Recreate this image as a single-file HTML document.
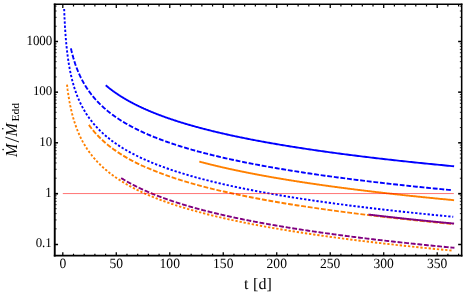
<!DOCTYPE html>
<html><head><meta charset="utf-8"><title>plot</title>
<style>html,body{margin:0;padding:0;background:#fff;}body{width:464px;height:293px;overflow:hidden;font-family:"Liberation Serif",serif;}</style>
</head><body>
<svg width="464" height="293" viewBox="0 0 464 293" style="display:block;will-change:transform">
<rect width="464" height="293" fill="#fff"/>
<clipPath id="c"><rect x="54.75" y="4.15" width="407.1" height="251.5"/></clipPath>
<g clip-path="url(#c)" fill="none" stroke-linecap="butt" stroke-linejoin="round">
<path d="M105.75,85.29 L105.99,85.49 L106.23,85.69 L106.47,85.89 L106.71,86.10 L106.95,86.30 L107.20,86.50 L107.44,86.70 L107.69,86.91 L107.94,87.11 L108.19,87.31 L108.44,87.51 L108.69,87.72 L108.95,87.92 L109.20,88.12 L109.46,88.32 L109.72,88.53 L109.98,88.73 L110.24,88.93 L110.50,89.13 L110.77,89.34 L111.03,89.54 L111.30,89.74 L111.57,89.94 L111.84,90.15 L112.11,90.35 L112.38,90.55 L112.66,90.75 L112.93,90.96 L113.21,91.16 L113.49,91.36 L113.77,91.56 L114.05,91.77 L114.34,91.97 L114.62,92.17 L114.91,92.37 L115.20,92.58 L115.49,92.78 L115.78,92.98 L116.07,93.18 L116.37,93.39 L116.66,93.59 L116.96,93.79 L117.26,93.99 L117.56,94.20 L117.87,94.40 L118.17,94.60 L118.48,94.80 L118.79,95.01 L119.10,95.21 L119.41,95.41 L119.72,95.61 L120.04,95.82 L120.36,96.02 L120.67,96.22 L121.00,96.42 L121.32,96.63 L121.64,96.83 L121.97,97.03 L122.30,97.23 L122.62,97.44 L122.96,97.64 L123.29,97.84 L123.62,98.04 L123.96,98.25 L124.30,98.45 L124.64,98.65 L124.98,98.85 L125.33,99.06 L125.67,99.26 L126.02,99.46 L126.37,99.67 L126.72,99.87 L127.08,100.07 L127.43,100.27 L127.79,100.48 L128.15,100.68 L128.51,100.88 L128.88,101.08 L129.24,101.29 L129.61,101.49 L129.98,101.69 L130.35,101.89 L130.73,102.10 L131.11,102.30 L131.48,102.50 L131.86,102.70 L132.25,102.91 L132.63,103.11 L133.02,103.31 L133.41,103.51 L133.80,103.72 L134.19,103.92 L134.59,104.12 L134.98,104.32 L135.38,104.53 L135.79,104.73 L136.19,104.93 L136.60,105.13 L137.01,105.34 L137.42,105.54 L137.83,105.74 L138.25,105.94 L138.66,106.15 L139.08,106.35 L139.51,106.55 L139.93,106.75 L140.36,106.96 L140.79,107.16 L141.22,107.36 L141.65,107.56 L142.09,107.77 L142.53,107.97 L142.97,108.17 L143.42,108.37 L143.86,108.58 L144.31,108.78 L144.76,108.98 L145.22,109.18 L145.67,109.39 L146.13,109.59 L146.59,109.79 L147.06,109.99 L147.53,110.20 L147.99,110.40 L148.47,110.60 L148.94,110.80 L149.42,111.01 L149.90,111.21 L150.38,111.41 L150.87,111.61 L151.35,111.82 L151.84,112.02 L152.34,112.22 L152.83,112.42 L153.33,112.63 L153.83,112.83 L154.34,113.03 L154.84,113.23 L155.35,113.44 L155.87,113.64 L156.38,113.84 L156.90,114.04 L157.42,114.25 L157.95,114.45 L158.47,114.65 L159.00,114.85 L159.54,115.06 L160.07,115.26 L160.61,115.46 L161.15,115.66 L161.70,115.87 L162.24,116.07 L162.80,116.27 L163.35,116.47 L163.91,116.68 L164.47,116.88 L165.03,117.08 L165.60,117.28 L166.16,117.49 L166.74,117.69 L167.31,117.89 L167.89,118.09 L168.47,118.30 L169.06,118.50 L169.65,118.70 L170.24,118.90 L170.83,119.11 L171.43,119.31 L172.03,119.51 L172.64,119.71 L173.25,119.92 L173.86,120.12 L174.48,120.32 L175.09,120.52 L175.72,120.73 L176.34,120.93 L176.97,121.13 L177.60,121.33 L178.24,121.54 L178.88,121.74 L179.52,121.94 L180.17,122.14 L180.82,122.35 L181.47,122.55 L182.13,122.75 L182.79,122.95 L183.45,123.16 L184.12,123.36 L184.79,123.56 L185.47,123.76 L186.15,123.97 L186.83,124.17 L187.52,124.37 L188.21,124.57 L188.90,124.78 L189.60,124.98 L190.31,125.18 L191.01,125.38 L191.72,125.59 L192.44,125.79 L193.15,125.99 L193.88,126.19 L194.60,126.40 L195.33,126.60 L196.07,126.80 L196.80,127.00 L197.55,127.21 L198.29,127.41 L199.04,127.61 L199.80,127.81 L200.56,128.02 L201.32,128.22 L202.09,128.42 L202.86,128.62 L203.63,128.83 L204.41,129.03 L205.20,129.23 L205.99,129.43 L206.78,129.64 L207.58,129.84 L208.38,130.04 L209.19,130.24 L210.00,130.45 L210.81,130.65 L211.63,130.85 L212.46,131.05 L213.29,131.26 L214.12,131.46 L214.96,131.66 L215.80,131.86 L216.65,132.07 L217.50,132.27 L218.36,132.47 L219.22,132.67 L220.09,132.88 L220.96,133.08 L221.83,133.28 L222.71,133.48 L223.60,133.69 L224.49,133.89 L225.39,134.09 L226.29,134.29 L227.19,134.50 L228.10,134.70 L229.02,134.90 L229.94,135.10 L230.86,135.31 L231.79,135.51 L232.73,135.71 L233.67,135.91 L234.62,136.12 L235.57,136.32 L236.53,136.52 L237.49,136.72 L238.46,136.93 L239.43,137.13 L240.41,137.33 L241.39,137.53 L242.38,137.74 L243.38,137.94 L244.38,138.14 L245.38,138.34 L246.39,138.55 L247.41,138.75 L248.43,138.95 L249.46,139.15 L250.49,139.36 L251.53,139.56 L252.58,139.76 L253.63,139.96 L254.69,140.17 L255.75,140.37 L256.82,140.57 L257.89,140.77 L258.98,140.98 L260.06,141.18 L261.15,141.38 L262.25,141.58 L263.36,141.79 L264.47,141.99 L265.59,142.19 L266.71,142.39 L267.84,142.60 L268.97,142.80 L270.12,143.00 L271.26,143.20 L272.42,143.41 L273.58,143.61 L274.75,143.81 L275.92,144.01 L277.10,144.22 L278.29,144.42 L279.48,144.62 L280.68,144.82 L281.89,145.03 L283.10,145.23 L284.32,145.43 L285.55,145.63 L286.78,145.84 L288.02,146.04 L289.27,146.24 L290.53,146.44 L291.79,146.65 L293.06,146.85 L294.33,147.05 L295.61,147.25 L296.90,147.46 L298.20,147.66 L299.50,147.86 L300.82,148.06 L302.13,148.27 L303.46,148.47 L304.79,148.67 L306.13,148.87 L307.48,149.08 L308.84,149.28 L310.20,149.48 L311.57,149.68 L312.95,149.89 L314.33,150.09 L315.73,150.29 L317.13,150.49 L318.54,150.70 L319.95,150.90 L321.38,151.10 L322.81,151.30 L324.25,151.51 L325.70,151.71 L327.15,151.91 L328.62,152.11 L330.09,152.32 L331.57,152.52 L333.06,152.72 L334.56,152.92 L336.06,153.13 L337.57,153.33 L339.10,153.53 L340.63,153.73 L342.17,153.94 L343.71,154.14 L345.27,154.34 L346.83,154.54 L348.41,154.75 L349.99,154.95 L351.58,155.15 L353.18,155.35 L354.79,155.56 L356.40,155.76 L358.03,155.96 L359.67,156.16 L361.31,156.37 L362.96,156.57 L364.63,156.77 L366.30,156.97 L367.98,157.18 L369.67,157.38 L371.37,157.58 L373.08,157.78 L374.80,157.99 L376.53,158.19 L378.26,158.39 L380.01,158.59 L381.77,158.80 L383.53,159.00 L385.31,159.20 L387.10,159.40 L388.89,159.61 L390.70,159.81 L392.52,160.01 L394.34,160.21 L396.18,160.42 L398.03,160.62 L399.88,160.82 L401.75,161.02 L403.63,161.23 L405.51,161.43 L407.41,161.63 L409.32,161.83 L411.24,162.04 L413.17,162.24 L415.11,162.44 L417.06,162.64 L419.03,162.85 L421.00,163.05 L422.98,163.25 L424.98,163.45 L426.98,163.66 L429.00,163.86 L431.03,164.06 L433.07,164.26 L435.12,164.47 L437.18,164.67 L439.26,164.87 L441.34,165.07 L443.44,165.28 L445.55,165.48 L447.67,165.68 L449.80,165.88 L451.94,166.09 L454.10,166.29" stroke="#0000ff" stroke-width="1.9"/>
<path d="M70.93,48.35 L71.01,48.71 L71.09,49.06 L71.17,49.42 L71.25,49.77 L71.33,50.13 L71.42,50.48 L71.50,50.84 L71.58,51.19 L71.67,51.55 L71.76,51.90 L71.84,52.26 L71.93,52.61 L72.02,52.97 L72.11,53.32 L72.20,53.67 L72.29,54.03 L72.38,54.38 L72.48,54.74 L72.57,55.09 L72.67,55.45 L72.76,55.80 L72.86,56.16 L72.96,56.51 L73.05,56.87 L73.15,57.22 L73.25,57.58 L73.36,57.93 L73.46,58.29 L73.56,58.64 L73.67,58.99 L73.77,59.35 L73.88,59.70 L73.99,60.06 L74.10,60.41 L74.21,60.77 L74.32,61.12 L74.43,61.48 L74.54,61.83 L74.66,62.19 L74.77,62.54 L74.89,62.90 L75.01,63.25 L75.12,63.61 L75.24,63.96 L75.36,64.32 L75.49,64.67 L75.61,65.02 L75.73,65.38 L75.86,65.73 L75.99,66.09 L76.12,66.44 L76.24,66.80 L76.38,67.15 L76.51,67.51 L76.64,67.86 L76.78,68.22 L76.91,68.57 L77.05,68.93 L77.19,69.28 L77.33,69.64 L77.47,69.99 L77.61,70.34 L77.75,70.70 L77.90,71.05 L78.05,71.41 L78.20,71.76 L78.34,72.12 L78.50,72.47 L78.65,72.83 L78.80,73.18 L78.96,73.54 L79.12,73.89 L79.27,74.25 L79.43,74.60 L79.60,74.96 L79.76,75.31 L79.92,75.67 L80.09,76.02 L80.26,76.37 L80.43,76.73 L80.60,77.08 L80.77,77.44 L80.95,77.79 L81.12,78.15 L81.30,78.50 L81.48,78.86 L81.66,79.21 L81.85,79.57 L82.03,79.92 L82.22,80.28 L82.41,80.63 L82.60,80.99 L82.79,81.34 L82.98,81.69 L83.18,82.05 L83.38,82.40 L83.58,82.76 L83.78,83.11 L83.99,83.47 L84.19,83.82 L84.40,84.18 L84.61,84.53 L84.82,84.89 L85.04,85.24 L85.25,85.60 L85.47,85.95 L85.69,86.31 L85.91,86.66 L86.14,87.02 L86.36,87.37 L86.59,87.72 L86.82,88.08 L87.06,88.43 L87.29,88.79 L87.53,89.14 L87.77,89.50 L88.02,89.85 L88.26,90.21 L88.51,90.56 L88.76,90.92 L89.01,91.27 L89.27,91.63 L89.52,91.98 L89.78,92.34 L90.04,92.69 L90.31,93.04 L90.58,93.40 L90.85,93.75 L91.12,94.11 L91.39,94.46 L91.67,94.82 L91.95,95.17 L92.24,95.53 L92.52,95.88 L92.81,96.24 L93.10,96.59 L93.40,96.95 L93.70,97.30 L94.00,97.66 L94.30,98.01 L94.61,98.37 L94.91,98.72 L95.23,99.07 L95.54,99.43 L95.86,99.78 L96.18,100.14 L96.51,100.49 L96.83,100.85 L97.16,101.20 L97.50,101.56 L97.84,101.91 L98.18,102.27 L98.52,102.62 L98.87,102.98 L99.22,103.33 L99.57,103.69 L99.93,104.04 L100.29,104.39 L100.66,104.75 L101.02,105.10 L101.40,105.46 L101.77,105.81 L102.15,106.17 L102.53,106.52 L102.92,106.88 L103.31,107.23 L103.70,107.59 L104.10,107.94 L104.50,108.30 L104.91,108.65 L105.32,109.01 L105.73,109.36 L106.15,109.72 L106.57,110.07 L106.99,110.42 L107.42,110.78 L107.86,111.13 L108.29,111.49 L108.74,111.84 L109.18,112.20 L109.63,112.55 L110.09,112.91 L110.55,113.26 L111.01,113.62 L111.48,113.97 L111.96,114.33 L112.43,114.68 L112.92,115.04 L113.40,115.39 L113.90,115.74 L114.39,116.10 L114.89,116.45 L115.40,116.81 L115.91,117.16 L116.43,117.52 L116.95,117.87 L117.48,118.23 L118.01,118.58 L118.54,118.94 L119.09,119.29 L119.63,119.65 L120.19,120.00 L120.74,120.36 L121.31,120.71 L121.88,121.07 L122.45,121.42 L123.03,121.77 L123.62,122.13 L124.21,122.48 L124.80,122.84 L125.41,123.19 L126.01,123.55 L126.63,123.90 L127.25,124.26 L127.88,124.61 L128.51,124.97 L129.15,125.32 L129.79,125.68 L130.44,126.03 L131.10,126.39 L131.77,126.74 L132.44,127.09 L133.11,127.45 L133.80,127.80 L134.49,128.16 L135.18,128.51 L135.89,128.87 L136.60,129.22 L137.32,129.58 L138.04,129.93 L138.77,130.29 L139.51,130.64 L140.26,131.00 L141.01,131.35 L141.77,131.71 L142.54,132.06 L143.31,132.42 L144.09,132.77 L144.88,133.12 L145.68,133.48 L146.49,133.83 L147.30,134.19 L148.12,134.54 L148.95,134.90 L149.79,135.25 L150.64,135.61 L151.49,135.96 L152.35,136.32 L153.22,136.67 L154.10,137.03 L154.99,137.38 L155.89,137.74 L156.79,138.09 L157.70,138.44 L158.63,138.80 L159.56,139.15 L160.50,139.51 L161.45,139.86 L162.41,140.22 L163.38,140.57 L164.35,140.93 L165.34,141.28 L166.34,141.64 L167.34,141.99 L168.36,142.35 L169.39,142.70 L170.42,143.06 L171.47,143.41 L172.53,143.77 L173.59,144.12 L174.67,144.47 L175.76,144.83 L176.86,145.18 L177.96,145.54 L179.08,145.89 L180.21,146.25 L181.36,146.60 L182.51,146.96 L183.67,147.31 L184.85,147.67 L186.03,148.02 L187.23,148.38 L188.44,148.73 L189.66,149.09 L190.90,149.44 L192.14,149.79 L193.40,150.15 L194.67,150.50 L195.95,150.86 L197.24,151.21 L198.55,151.57 L199.87,151.92 L201.20,152.28 L202.55,152.63 L203.91,152.99 L205.28,153.34 L206.66,153.70 L208.06,154.05 L209.48,154.41 L210.90,154.76 L212.34,155.11 L213.80,155.47 L215.26,155.82 L216.75,156.18 L218.24,156.53 L219.75,156.89 L221.28,157.24 L222.82,157.60 L224.38,157.95 L225.95,158.31 L227.53,158.66 L229.13,159.02 L230.75,159.37 L232.38,159.73 L234.03,160.08 L235.70,160.44 L237.38,160.79 L239.07,161.14 L240.79,161.50 L242.52,161.85 L244.27,162.21 L246.03,162.56 L247.81,162.92 L249.61,163.27 L251.43,163.63 L253.26,163.98 L255.11,164.34 L256.98,164.69 L258.87,165.05 L260.77,165.40 L262.70,165.76 L264.64,166.11 L266.60,166.46 L268.59,166.82 L270.59,167.17 L272.61,167.53 L274.65,167.88 L276.71,168.24 L278.78,168.59 L280.88,168.95 L283.00,169.30 L285.15,169.66 L287.31,170.01 L289.49,170.37 L291.69,170.72 L293.92,171.08 L296.16,171.43 L298.43,171.79 L300.72,172.14 L303.04,172.49 L305.37,172.85 L307.73,173.20 L310.11,173.56 L312.52,173.91 L314.94,174.27 L317.40,174.62 L319.87,174.98 L322.37,175.33 L324.89,175.69 L327.44,176.04 L330.01,176.40 L332.61,176.75 L335.23,177.11 L337.88,177.46 L340.56,177.81 L343.26,178.17 L345.98,178.52 L348.74,178.88 L351.52,179.23 L354.32,179.59 L357.16,179.94 L360.02,180.30 L362.91,180.65 L365.83,181.01 L368.77,181.36 L371.75,181.72 L374.75,182.07 L377.78,182.43 L380.84,182.78 L383.94,183.14 L387.06,183.49 L390.21,183.84 L393.39,184.20 L396.61,184.55 L399.85,184.91 L403.13,185.26 L406.44,185.62 L409.78,185.97 L413.15,186.33 L416.56,186.68 L420.00,187.04 L423.47,187.39 L426.97,187.75 L430.52,188.10 L434.09,188.46 L437.70,188.81 L441.34,189.16 L445.02,189.52 L448.74,189.87 L452.49,190.23" stroke="#0000ff" stroke-width="1.9" stroke-dasharray="4.85 1.79"/>
<path d="M64.15,8.97 L64.17,9.49 L64.19,10.01 L64.21,10.53 L64.23,11.05 L64.25,11.57 L64.27,12.09 L64.29,12.61 L64.31,13.13 L64.33,13.64 L64.35,14.16 L64.38,14.68 L64.40,15.20 L64.42,15.72 L64.44,16.24 L64.47,16.76 L64.49,17.28 L64.52,17.80 L64.54,18.32 L64.56,18.84 L64.59,19.36 L64.62,19.88 L64.64,20.40 L64.67,20.92 L64.69,21.44 L64.72,21.96 L64.75,22.48 L64.78,23.00 L64.80,23.52 L64.83,24.04 L64.86,24.56 L64.89,25.08 L64.92,25.59 L64.95,26.11 L64.98,26.63 L65.01,27.15 L65.04,27.67 L65.08,28.19 L65.11,28.71 L65.14,29.23 L65.18,29.75 L65.21,30.27 L65.24,30.79 L65.28,31.31 L65.31,31.83 L65.35,32.35 L65.39,32.87 L65.42,33.39 L65.46,33.91 L65.50,34.43 L65.54,34.95 L65.58,35.47 L65.62,35.99 L65.66,36.51 L65.70,37.03 L65.74,37.54 L65.78,38.06 L65.82,38.58 L65.87,39.10 L65.91,39.62 L65.95,40.14 L66.00,40.66 L66.05,41.18 L66.09,41.70 L66.14,42.22 L66.19,42.74 L66.23,43.26 L66.28,43.78 L66.33,44.30 L66.38,44.82 L66.43,45.34 L66.49,45.86 L66.54,46.38 L66.59,46.90 L66.65,47.42 L66.70,47.94 L66.76,48.46 L66.81,48.98 L66.87,49.49 L66.93,50.01 L66.99,50.53 L67.05,51.05 L67.11,51.57 L67.17,52.09 L67.23,52.61 L67.30,53.13 L67.36,53.65 L67.42,54.17 L67.49,54.69 L67.56,55.21 L67.63,55.73 L67.69,56.25 L67.76,56.77 L67.84,57.29 L67.91,57.81 L67.98,58.33 L68.05,58.85 L68.13,59.37 L68.21,59.89 L68.28,60.41 L68.36,60.93 L68.44,61.44 L68.52,61.96 L68.60,62.48 L68.68,63.00 L68.77,63.52 L68.85,64.04 L68.94,64.56 L69.03,65.08 L69.12,65.60 L69.21,66.12 L69.30,66.64 L69.39,67.16 L69.49,67.68 L69.58,68.20 L69.68,68.72 L69.78,69.24 L69.88,69.76 L69.98,70.28 L70.08,70.80 L70.18,71.32 L70.29,71.84 L70.39,72.36 L70.50,72.88 L70.61,73.39 L70.72,73.91 L70.84,74.43 L70.95,74.95 L71.07,75.47 L71.19,75.99 L71.31,76.51 L71.43,77.03 L71.55,77.55 L71.68,78.07 L71.80,78.59 L71.93,79.11 L72.06,79.63 L72.19,80.15 L72.33,80.67 L72.46,81.19 L72.60,81.71 L72.74,82.23 L72.88,82.75 L73.03,83.27 L73.17,83.79 L73.32,84.31 L73.47,84.83 L73.62,85.35 L73.78,85.86 L73.94,86.38 L74.09,86.90 L74.26,87.42 L74.42,87.94 L74.58,88.46 L74.75,88.98 L74.92,89.50 L75.10,90.02 L75.27,90.54 L75.45,91.06 L75.63,91.58 L75.81,92.10 L76.00,92.62 L76.19,93.14 L76.38,93.66 L76.57,94.18 L76.77,94.70 L76.97,95.22 L77.17,95.74 L77.38,96.26 L77.58,96.78 L77.80,97.30 L78.01,97.81 L78.23,98.33 L78.45,98.85 L78.67,99.37 L78.90,99.89 L79.13,100.41 L79.36,100.93 L79.60,101.45 L79.84,101.97 L80.08,102.49 L80.32,103.01 L80.57,103.53 L80.83,104.05 L81.09,104.57 L81.35,105.09 L81.61,105.61 L81.88,106.13 L82.15,106.65 L82.43,107.17 L82.71,107.69 L82.99,108.21 L83.28,108.73 L83.57,109.25 L83.87,109.76 L84.17,110.28 L84.48,110.80 L84.79,111.32 L85.10,111.84 L85.42,112.36 L85.74,112.88 L86.07,113.40 L86.40,113.92 L86.74,114.44 L87.08,114.96 L87.42,115.48 L87.78,116.00 L88.13,116.52 L88.49,117.04 L88.86,117.56 L89.23,118.08 L89.61,118.60 L89.99,119.12 L90.38,119.64 L90.77,120.16 L91.17,120.68 L91.58,121.20 L91.99,121.71 L92.41,122.23 L92.83,122.75 L93.26,123.27 L93.69,123.79 L94.13,124.31 L94.58,124.83 L95.03,125.35 L95.49,125.87 L95.96,126.39 L96.43,126.91 L96.91,127.43 L97.40,127.95 L97.89,128.47 L98.40,128.99 L98.90,129.51 L99.42,130.03 L99.94,130.55 L100.47,131.07 L101.01,131.59 L101.55,132.11 L102.11,132.63 L102.67,133.15 L103.24,133.66 L103.81,134.18 L104.40,134.70 L104.99,135.22 L105.60,135.74 L106.21,136.26 L106.83,136.78 L107.45,137.30 L108.09,137.82 L108.74,138.34 L109.39,138.86 L110.06,139.38 L110.73,139.90 L111.42,140.42 L112.11,140.94 L112.82,141.46 L113.53,141.98 L114.25,142.50 L114.99,143.02 L115.73,143.54 L116.49,144.06 L117.25,144.58 L118.03,145.10 L118.82,145.61 L119.62,146.13 L120.43,146.65 L121.25,147.17 L122.09,147.69 L122.93,148.21 L123.79,148.73 L124.66,149.25 L125.55,149.77 L126.44,150.29 L127.35,150.81 L128.27,151.33 L129.21,151.85 L130.15,152.37 L131.11,152.89 L132.09,153.41 L133.08,153.93 L134.08,154.45 L135.10,154.97 L136.13,155.49 L137.18,156.01 L138.24,156.53 L139.32,157.05 L140.41,157.57 L141.52,158.08 L142.64,158.60 L143.78,159.12 L144.93,159.64 L146.11,160.16 L147.30,160.68 L148.50,161.20 L149.73,161.72 L150.97,162.24 L152.22,162.76 L153.50,163.28 L154.80,163.80 L156.11,164.32 L157.44,164.84 L158.79,165.36 L160.16,165.88 L161.55,166.40 L162.96,166.92 L164.39,167.44 L165.84,167.96 L167.31,168.48 L168.80,169.00 L170.31,169.52 L171.85,170.03 L173.41,170.55 L174.98,171.07 L176.59,171.59 L178.21,172.11 L179.86,172.63 L181.53,173.15 L183.22,173.67 L184.94,174.19 L186.68,174.71 L188.45,175.23 L190.25,175.75 L192.06,176.27 L193.91,176.79 L195.78,177.31 L197.68,177.83 L199.60,178.35 L201.56,178.87 L203.54,179.39 L205.55,179.91 L207.58,180.43 L209.65,180.95 L211.75,181.47 L213.87,181.98 L216.03,182.50 L218.21,183.02 L220.43,183.54 L222.68,184.06 L224.96,184.58 L227.28,185.10 L229.63,185.62 L232.01,186.14 L234.42,186.66 L236.87,187.18 L239.36,187.70 L241.88,188.22 L244.43,188.74 L247.03,189.26 L249.66,189.78 L252.32,190.30 L255.03,190.82 L257.77,191.34 L260.55,191.86 L263.38,192.38 L266.24,192.90 L269.14,193.42 L272.09,193.93 L275.07,194.45 L278.10,194.97 L281.18,195.49 L284.29,196.01 L287.46,196.53 L290.66,197.05 L293.91,197.57 L297.21,198.09 L300.56,198.61 L303.95,199.13 L307.39,199.65 L310.89,200.17 L314.43,200.69 L318.02,201.21 L321.66,201.73 L325.36,202.25 L329.10,202.77 L332.90,203.29 L336.76,203.81 L340.67,204.33 L344.63,204.85 L348.66,205.37 L352.74,205.88 L356.88,206.40 L361.07,206.92 L365.33,207.44 L369.65,207.96 L374.03,208.48 L378.47,209.00 L382.98,209.52 L387.54,210.04 L392.18,210.56 L396.88,211.08 L401.65,211.60 L406.49,212.12 L411.39,212.64 L416.37,213.16 L421.41,213.68 L426.53,214.20 L431.72,214.72 L436.99,215.24 L442.33,215.76 L447.75,216.28 L453.24,216.80" stroke="#0000ff" stroke-width="1.9" stroke-dasharray="2.3 1.847"/>
<path d="M199.29,161.57 L199.65,161.67 L200.01,161.76 L200.38,161.86 L200.74,161.96 L201.10,162.05 L201.47,162.15 L201.83,162.25 L202.20,162.34 L202.57,162.44 L202.94,162.54 L203.30,162.63 L203.68,162.73 L204.05,162.83 L204.42,162.92 L204.79,163.02 L205.17,163.12 L205.54,163.21 L205.92,163.31 L206.30,163.41 L206.67,163.50 L207.05,163.60 L207.43,163.70 L207.81,163.79 L208.20,163.89 L208.58,163.99 L208.96,164.08 L209.35,164.18 L209.74,164.27 L210.12,164.37 L210.51,164.47 L210.90,164.56 L211.29,164.66 L211.68,164.76 L212.08,164.85 L212.47,164.95 L212.86,165.05 L213.26,165.14 L213.66,165.24 L214.05,165.34 L214.45,165.43 L214.85,165.53 L215.25,165.63 L215.66,165.72 L216.06,165.82 L216.46,165.92 L216.87,166.01 L217.27,166.11 L217.68,166.21 L218.09,166.30 L218.50,166.40 L218.91,166.49 L219.32,166.59 L219.73,166.69 L220.15,166.78 L220.56,166.88 L220.98,166.98 L221.40,167.07 L221.81,167.17 L222.23,167.27 L222.65,167.36 L223.07,167.46 L223.50,167.56 L223.92,167.65 L224.35,167.75 L224.77,167.85 L225.20,167.94 L225.63,168.04 L226.06,168.14 L226.49,168.23 L226.92,168.33 L227.35,168.43 L227.78,168.52 L228.22,168.62 L228.66,168.71 L229.09,168.81 L229.53,168.91 L229.97,169.00 L230.41,169.10 L230.85,169.20 L231.30,169.29 L231.74,169.39 L232.19,169.49 L232.63,169.58 L233.08,169.68 L233.53,169.78 L233.98,169.87 L234.43,169.97 L234.88,170.07 L235.34,170.16 L235.79,170.26 L236.25,170.36 L236.71,170.45 L237.16,170.55 L237.62,170.65 L238.08,170.74 L238.55,170.84 L239.01,170.94 L239.47,171.03 L239.94,171.13 L240.41,171.22 L240.88,171.32 L241.35,171.42 L241.82,171.51 L242.29,171.61 L242.76,171.71 L243.24,171.80 L243.71,171.90 L244.19,172.00 L244.67,172.09 L245.15,172.19 L245.63,172.29 L246.11,172.38 L246.59,172.48 L247.08,172.58 L247.56,172.67 L248.05,172.77 L248.54,172.87 L249.03,172.96 L249.52,173.06 L250.01,173.16 L250.50,173.25 L251.00,173.35 L251.50,173.44 L251.99,173.54 L252.49,173.64 L252.99,173.73 L253.49,173.83 L254.00,173.93 L254.50,174.02 L255.01,174.12 L255.51,174.22 L256.02,174.31 L256.53,174.41 L257.04,174.51 L257.55,174.60 L258.07,174.70 L258.58,174.80 L259.10,174.89 L259.61,174.99 L260.13,175.09 L260.65,175.18 L261.18,175.28 L261.70,175.38 L262.22,175.47 L262.75,175.57 L263.28,175.67 L263.80,175.76 L264.33,175.86 L264.87,175.95 L265.40,176.05 L265.93,176.15 L266.47,176.24 L267.00,176.34 L267.54,176.44 L268.08,176.53 L268.62,176.63 L269.17,176.73 L269.71,176.82 L270.26,176.92 L270.80,177.02 L271.35,177.11 L271.90,177.21 L272.45,177.31 L273.01,177.40 L273.56,177.50 L274.12,177.60 L274.67,177.69 L275.23,177.79 L275.79,177.89 L276.35,177.98 L276.92,178.08 L277.48,178.17 L278.05,178.27 L278.61,178.37 L279.18,178.46 L279.75,178.56 L280.32,178.66 L280.90,178.75 L281.47,178.85 L282.05,178.95 L282.63,179.04 L283.21,179.14 L283.79,179.24 L284.37,179.33 L284.96,179.43 L285.54,179.53 L286.13,179.62 L286.72,179.72 L287.31,179.82 L287.90,179.91 L288.49,180.01 L289.09,180.11 L289.68,180.20 L290.28,180.30 L290.88,180.39 L291.48,180.49 L292.09,180.59 L292.69,180.68 L293.30,180.78 L293.90,180.88 L294.51,180.97 L295.13,181.07 L295.74,181.17 L296.35,181.26 L296.97,181.36 L297.58,181.46 L298.20,181.55 L298.82,181.65 L299.45,181.75 L300.07,181.84 L300.70,181.94 L301.32,182.04 L301.95,182.13 L302.58,182.23 L303.21,182.33 L303.85,182.42 L304.48,182.52 L305.12,182.62 L305.76,182.71 L306.40,182.81 L307.04,182.90 L307.69,183.00 L308.33,183.10 L308.98,183.19 L309.63,183.29 L310.28,183.39 L310.93,183.48 L311.59,183.58 L312.24,183.68 L312.90,183.77 L313.56,183.87 L314.22,183.97 L314.88,184.06 L315.55,184.16 L316.21,184.26 L316.88,184.35 L317.55,184.45 L318.22,184.55 L318.90,184.64 L319.57,184.74 L320.25,184.84 L320.93,184.93 L321.61,185.03 L322.29,185.12 L322.98,185.22 L323.66,185.32 L324.35,185.41 L325.04,185.51 L325.73,185.61 L326.42,185.70 L327.12,185.80 L327.81,185.90 L328.51,185.99 L329.21,186.09 L329.92,186.19 L330.62,186.28 L331.33,186.38 L332.03,186.48 L332.74,186.57 L333.46,186.67 L334.17,186.77 L334.89,186.86 L335.60,186.96 L336.32,187.06 L337.04,187.15 L337.77,187.25 L338.49,187.35 L339.22,187.44 L339.95,187.54 L340.68,187.63 L341.41,187.73 L342.14,187.83 L342.88,187.92 L343.62,188.02 L344.36,188.12 L345.10,188.21 L345.85,188.31 L346.59,188.41 L347.34,188.50 L348.09,188.60 L348.84,188.70 L349.60,188.79 L350.35,188.89 L351.11,188.99 L351.87,189.08 L352.63,189.18 L353.40,189.28 L354.16,189.37 L354.93,189.47 L355.70,189.57 L356.47,189.66 L357.25,189.76 L358.02,189.85 L358.80,189.95 L359.58,190.05 L360.37,190.14 L361.15,190.24 L361.94,190.34 L362.73,190.43 L363.52,190.53 L364.31,190.63 L365.10,190.72 L365.90,190.82 L366.70,190.92 L367.50,191.01 L368.31,191.11 L369.11,191.21 L369.92,191.30 L370.73,191.40 L371.54,191.50 L372.35,191.59 L373.17,191.69 L373.99,191.79 L374.81,191.88 L375.63,191.98 L376.46,192.07 L377.28,192.17 L378.11,192.27 L378.94,192.36 L379.78,192.46 L380.61,192.56 L381.45,192.65 L382.29,192.75 L383.13,192.85 L383.98,192.94 L384.82,193.04 L385.67,193.14 L386.52,193.23 L387.38,193.33 L388.23,193.43 L389.09,193.52 L389.95,193.62 L390.81,193.72 L391.68,193.81 L392.55,193.91 L393.42,194.01 L394.29,194.10 L395.16,194.20 L396.04,194.30 L396.92,194.39 L397.80,194.49 L398.68,194.58 L399.57,194.68 L400.45,194.78 L401.34,194.87 L402.24,194.97 L403.13,195.07 L404.03,195.16 L404.93,195.26 L405.83,195.36 L406.73,195.45 L407.64,195.55 L408.55,195.65 L409.46,195.74 L410.38,195.84 L411.29,195.94 L412.21,196.03 L413.13,196.13 L414.06,196.23 L414.98,196.32 L415.91,196.42 L416.84,196.52 L417.77,196.61 L418.71,196.71 L419.65,196.80 L420.59,196.90 L421.53,197.00 L422.48,197.09 L423.43,197.19 L424.38,197.29 L425.33,197.38 L426.29,197.48 L427.24,197.58 L428.21,197.67 L429.17,197.77 L430.13,197.87 L431.10,197.96 L432.07,198.06 L433.05,198.16 L434.02,198.25 L435.00,198.35 L435.98,198.45 L436.97,198.54 L437.95,198.64 L438.94,198.74 L439.94,198.83 L440.93,198.93 L441.93,199.03 L442.93,199.12 L443.93,199.22 L444.93,199.31 L445.94,199.41 L446.95,199.51 L447.96,199.60 L448.98,199.70 L450.00,199.80 L451.02,199.89 L452.04,199.99 L453.07,200.09 L454.10,200.18" stroke="#ff8000" stroke-width="1.9"/>
<path d="M88.90,124.85 L89.08,125.10 L89.26,125.35 L89.44,125.59 L89.62,125.84 L89.80,126.09 L89.98,126.34 L90.17,126.59 L90.35,126.83 L90.54,127.08 L90.73,127.33 L90.92,127.58 L91.11,127.83 L91.30,128.07 L91.49,128.32 L91.69,128.57 L91.88,128.82 L92.08,129.07 L92.28,129.31 L92.48,129.56 L92.68,129.81 L92.88,130.06 L93.09,130.31 L93.29,130.55 L93.50,130.80 L93.71,131.05 L93.92,131.30 L94.13,131.55 L94.34,131.79 L94.56,132.04 L94.77,132.29 L94.99,132.54 L95.21,132.79 L95.43,133.03 L95.65,133.28 L95.87,133.53 L96.10,133.78 L96.32,134.03 L96.55,134.27 L96.78,134.52 L97.01,134.77 L97.24,135.02 L97.48,135.27 L97.71,135.51 L97.95,135.76 L98.19,136.01 L98.43,136.26 L98.67,136.50 L98.91,136.75 L99.16,137.00 L99.40,137.25 L99.65,137.50 L99.90,137.74 L100.15,137.99 L100.41,138.24 L100.66,138.49 L100.92,138.74 L101.18,138.98 L101.44,139.23 L101.70,139.48 L101.96,139.73 L102.23,139.98 L102.50,140.22 L102.77,140.47 L103.04,140.72 L103.31,140.97 L103.59,141.22 L103.86,141.46 L104.14,141.71 L104.42,141.96 L104.70,142.21 L104.99,142.46 L105.28,142.70 L105.56,142.95 L105.85,143.20 L106.15,143.45 L106.44,143.70 L106.74,143.94 L107.03,144.19 L107.33,144.44 L107.64,144.69 L107.94,144.94 L108.25,145.18 L108.56,145.43 L108.87,145.68 L109.18,145.93 L109.49,146.18 L109.81,146.42 L110.13,146.67 L110.45,146.92 L110.77,147.17 L111.10,147.41 L111.43,147.66 L111.76,147.91 L112.09,148.16 L112.42,148.41 L112.76,148.65 L113.10,148.90 L113.44,149.15 L113.78,149.40 L114.13,149.65 L114.48,149.89 L114.83,150.14 L115.18,150.39 L115.54,150.64 L115.90,150.89 L116.26,151.13 L116.62,151.38 L116.98,151.63 L117.35,151.88 L117.72,152.13 L118.10,152.37 L118.47,152.62 L118.85,152.87 L119.23,153.12 L119.61,153.37 L120.00,153.61 L120.39,153.86 L120.78,154.11 L121.17,154.36 L121.57,154.61 L121.96,154.85 L122.37,155.10 L122.77,155.35 L123.18,155.60 L123.59,155.85 L124.00,156.09 L124.41,156.34 L124.83,156.59 L125.25,156.84 L125.68,157.09 L126.10,157.33 L126.53,157.58 L126.97,157.83 L127.40,158.08 L127.84,158.32 L128.28,158.57 L128.73,158.82 L129.17,159.07 L129.62,159.32 L130.08,159.56 L130.53,159.81 L130.99,160.06 L131.46,160.31 L131.92,160.56 L132.39,160.80 L132.86,161.05 L133.34,161.30 L133.82,161.55 L134.30,161.80 L134.78,162.04 L135.27,162.29 L135.77,162.54 L136.26,162.79 L136.76,163.04 L137.26,163.28 L137.77,163.53 L138.27,163.78 L138.79,164.03 L139.30,164.28 L139.82,164.52 L140.34,164.77 L140.87,165.02 L141.40,165.27 L141.93,165.52 L142.47,165.76 L143.01,166.01 L143.56,166.26 L144.10,166.51 L144.66,166.76 L145.21,167.00 L145.77,167.25 L146.33,167.50 L146.90,167.75 L147.47,168.00 L148.05,168.24 L148.62,168.49 L149.21,168.74 L149.79,168.99 L150.38,169.23 L150.98,169.48 L151.58,169.73 L152.18,169.98 L152.78,170.23 L153.40,170.47 L154.01,170.72 L154.63,170.97 L155.25,171.22 L155.88,171.47 L156.51,171.71 L157.15,171.96 L157.79,172.21 L158.43,172.46 L159.08,172.71 L159.73,172.95 L160.39,173.20 L161.05,173.45 L161.72,173.70 L162.39,173.95 L163.07,174.19 L163.75,174.44 L164.43,174.69 L165.12,174.94 L165.82,175.19 L166.52,175.43 L167.22,175.68 L167.93,175.93 L168.64,176.18 L169.36,176.43 L170.08,176.67 L170.81,176.92 L171.55,177.17 L172.28,177.42 L173.03,177.67 L173.77,177.91 L174.53,178.16 L175.29,178.41 L176.05,178.66 L176.82,178.90 L177.59,179.15 L178.37,179.40 L179.16,179.65 L179.94,179.90 L180.74,180.14 L181.54,180.39 L182.35,180.64 L183.16,180.89 L183.97,181.14 L184.80,181.38 L185.62,181.63 L186.46,181.88 L187.30,182.13 L188.14,182.38 L188.99,182.62 L189.85,182.87 L190.71,183.12 L191.58,183.37 L192.45,183.62 L193.33,183.86 L194.22,184.11 L195.11,184.36 L196.01,184.61 L196.91,184.86 L197.82,185.10 L198.74,185.35 L199.66,185.60 L200.59,185.85 L201.52,186.10 L202.47,186.34 L203.41,186.59 L204.37,186.84 L205.33,187.09 L206.30,187.34 L207.27,187.58 L208.25,187.83 L209.24,188.08 L210.23,188.33 L211.23,188.58 L212.24,188.82 L213.25,189.07 L214.27,189.32 L215.30,189.57 L216.34,189.81 L217.38,190.06 L218.43,190.31 L219.48,190.56 L220.55,190.81 L221.62,191.05 L222.70,191.30 L223.78,191.55 L224.87,191.80 L225.97,192.05 L227.08,192.29 L228.20,192.54 L229.32,192.79 L230.45,193.04 L231.59,193.29 L232.73,193.53 L233.88,193.78 L235.05,194.03 L236.21,194.28 L237.39,194.53 L238.58,194.77 L239.77,195.02 L240.97,195.27 L242.18,195.52 L243.40,195.77 L244.62,196.01 L245.86,196.26 L247.10,196.51 L248.35,196.76 L249.61,197.01 L250.87,197.25 L252.15,197.50 L253.44,197.75 L254.73,198.00 L256.03,198.25 L257.34,198.49 L258.66,198.74 L259.99,198.99 L261.33,199.24 L262.68,199.49 L264.04,199.73 L265.40,199.98 L266.78,200.23 L268.16,200.48 L269.55,200.72 L270.96,200.97 L272.37,201.22 L273.79,201.47 L275.22,201.72 L276.66,201.96 L278.12,202.21 L279.58,202.46 L281.05,202.71 L282.53,202.96 L284.02,203.20 L285.52,203.45 L287.03,203.70 L288.55,203.95 L290.09,204.20 L291.63,204.44 L293.18,204.69 L294.75,204.94 L296.32,205.19 L297.90,205.44 L299.50,205.68 L301.11,205.93 L302.72,206.18 L304.35,206.43 L305.99,206.68 L307.64,206.92 L309.30,207.17 L310.98,207.42 L312.66,207.67 L314.36,207.92 L316.06,208.16 L317.78,208.41 L319.51,208.66 L321.25,208.91 L323.01,209.16 L324.77,209.40 L326.55,209.65 L328.34,209.90 L330.14,210.15 L331.96,210.40 L333.78,210.64 L335.62,210.89 L337.47,211.14 L339.34,211.39 L341.21,211.63 L343.10,211.88 L345.01,212.13 L346.92,212.38 L348.85,212.63 L350.79,212.87 L352.74,213.12 L354.71,213.37 L356.69,213.62 L358.69,213.87 L360.70,214.11 L362.72,214.36 L364.75,214.61 L366.80,214.86 L368.86,215.11 L370.94,215.35 L373.03,215.60 L375.14,215.85 L377.26,216.10 L379.39,216.35 L381.54,216.59 L383.70,216.84 L385.88,217.09 L388.07,217.34 L390.28,217.59 L392.50,217.83 L394.74,218.08 L396.99,218.33 L399.26,218.58 L401.54,218.83 L403.84,219.07 L406.16,219.32 L408.49,219.57 L410.83,219.82 L413.20,220.07 L415.57,220.31 L417.97,220.56 L420.38,220.81 L422.80,221.06 L425.25,221.31 L427.71,221.55 L430.18,221.80 L432.68,222.05 L435.19,222.30 L437.71,222.54 L440.26,222.79 L442.82,223.04 L445.40,223.29 L447.99,223.54 L450.61,223.78 L453.24,224.03" stroke="#ff8000" stroke-width="1.9" stroke-dasharray="4.85 1.79"/>
<path d="M67.00,84.57 L67.05,84.99 L67.10,85.40 L67.15,85.82 L67.20,86.23 L67.25,86.65 L67.30,87.06 L67.35,87.48 L67.40,87.89 L67.46,88.31 L67.51,88.72 L67.56,89.14 L67.62,89.55 L67.67,89.97 L67.73,90.38 L67.78,90.80 L67.84,91.21 L67.90,91.63 L67.95,92.04 L68.01,92.46 L68.07,92.87 L68.13,93.29 L68.19,93.70 L68.25,94.12 L68.32,94.54 L68.38,94.95 L68.44,95.37 L68.51,95.78 L68.57,96.20 L68.64,96.61 L68.70,97.03 L68.77,97.44 L68.84,97.86 L68.91,98.27 L68.98,98.69 L69.05,99.10 L69.12,99.52 L69.19,99.93 L69.26,100.35 L69.34,100.76 L69.41,101.18 L69.49,101.59 L69.56,102.01 L69.64,102.42 L69.72,102.84 L69.80,103.25 L69.88,103.67 L69.96,104.08 L70.04,104.50 L70.12,104.92 L70.21,105.33 L70.29,105.75 L70.38,106.16 L70.46,106.58 L70.55,106.99 L70.64,107.41 L70.73,107.82 L70.82,108.24 L70.91,108.65 L71.00,109.07 L71.09,109.48 L71.19,109.90 L71.28,110.31 L71.38,110.73 L71.48,111.14 L71.58,111.56 L71.68,111.97 L71.78,112.39 L71.88,112.80 L71.98,113.22 L72.09,113.63 L72.19,114.05 L72.30,114.47 L72.41,114.88 L72.52,115.30 L72.63,115.71 L72.74,116.13 L72.86,116.54 L72.97,116.96 L73.09,117.37 L73.20,117.79 L73.32,118.20 L73.44,118.62 L73.56,119.03 L73.68,119.45 L73.81,119.86 L73.93,120.28 L74.06,120.69 L74.19,121.11 L74.32,121.52 L74.45,121.94 L74.58,122.35 L74.72,122.77 L74.85,123.18 L74.99,123.60 L75.13,124.01 L75.27,124.43 L75.41,124.85 L75.55,125.26 L75.70,125.68 L75.85,126.09 L76.00,126.51 L76.15,126.92 L76.30,127.34 L76.45,127.75 L76.61,128.17 L76.76,128.58 L76.92,129.00 L77.08,129.41 L77.25,129.83 L77.41,130.24 L77.58,130.66 L77.75,131.07 L77.92,131.49 L78.09,131.90 L78.26,132.32 L78.44,132.73 L78.62,133.15 L78.80,133.56 L78.98,133.98 L79.16,134.40 L79.35,134.81 L79.54,135.23 L79.73,135.64 L79.92,136.06 L80.12,136.47 L80.31,136.89 L80.51,137.30 L80.72,137.72 L80.92,138.13 L81.13,138.55 L81.33,138.96 L81.55,139.38 L81.76,139.79 L81.98,140.21 L82.19,140.62 L82.41,141.04 L82.64,141.45 L82.86,141.87 L83.09,142.28 L83.32,142.70 L83.56,143.11 L83.79,143.53 L84.03,143.94 L84.27,144.36 L84.52,144.78 L84.77,145.19 L85.02,145.61 L85.27,146.02 L85.53,146.44 L85.78,146.85 L86.05,147.27 L86.31,147.68 L86.58,148.10 L86.85,148.51 L87.12,148.93 L87.40,149.34 L87.68,149.76 L87.96,150.17 L88.25,150.59 L88.54,151.00 L88.83,151.42 L89.13,151.83 L89.43,152.25 L89.73,152.66 L90.04,153.08 L90.35,153.49 L90.66,153.91 L90.98,154.33 L91.30,154.74 L91.63,155.16 L91.96,155.57 L92.29,155.99 L92.62,156.40 L92.96,156.82 L93.31,157.23 L93.65,157.65 L94.01,158.06 L94.36,158.48 L94.72,158.89 L95.08,159.31 L95.45,159.72 L95.82,160.14 L96.20,160.55 L96.58,160.97 L96.97,161.38 L97.35,161.80 L97.75,162.21 L98.15,162.63 L98.55,163.04 L98.96,163.46 L99.37,163.87 L99.78,164.29 L100.21,164.71 L100.63,165.12 L101.06,165.54 L101.50,165.95 L101.94,166.37 L102.38,166.78 L102.84,167.20 L103.29,167.61 L103.75,168.03 L104.22,168.44 L104.69,168.86 L105.17,169.27 L105.65,169.69 L106.14,170.10 L106.63,170.52 L107.13,170.93 L107.64,171.35 L108.15,171.76 L108.66,172.18 L109.19,172.59 L109.71,173.01 L110.25,173.42 L110.79,173.84 L111.34,174.26 L111.89,174.67 L112.45,175.09 L113.01,175.50 L113.59,175.92 L114.16,176.33 L114.75,176.75 L115.34,177.16 L115.94,177.58 L116.54,177.99 L117.16,178.41 L117.78,178.82 L118.40,179.24 L119.03,179.65 L119.68,180.07 L120.32,180.48 L120.98,180.90 L121.64,181.31 L122.31,181.73 L122.99,182.14 L123.67,182.56 L124.37,182.97 L125.07,183.39 L125.78,183.80 L126.50,184.22 L127.22,184.64 L127.95,185.05 L128.70,185.47 L129.45,185.88 L130.21,186.30 L130.97,186.71 L131.75,187.13 L132.54,187.54 L133.33,187.96 L134.13,188.37 L134.95,188.79 L135.77,189.20 L136.60,189.62 L137.44,190.03 L138.29,190.45 L139.15,190.86 L140.02,191.28 L140.90,191.69 L141.79,192.11 L142.69,192.52 L143.60,192.94 L144.52,193.35 L145.45,193.77 L146.39,194.19 L147.34,194.60 L148.31,195.02 L149.28,195.43 L150.26,195.85 L151.26,196.26 L152.27,196.68 L153.29,197.09 L154.32,197.51 L155.36,197.92 L156.41,198.34 L157.48,198.75 L158.56,199.17 L159.65,199.58 L160.75,200.00 L161.87,200.41 L163.00,200.83 L164.14,201.24 L165.29,201.66 L166.46,202.07 L167.64,202.49 L168.83,202.90 L170.04,203.32 L171.26,203.73 L172.50,204.15 L173.75,204.57 L175.01,204.98 L176.29,205.40 L177.58,205.81 L178.89,206.23 L180.21,206.64 L181.55,207.06 L182.90,207.47 L184.27,207.89 L185.65,208.30 L187.05,208.72 L188.47,209.13 L189.90,209.55 L191.35,209.96 L192.81,210.38 L194.29,210.79 L195.79,211.21 L197.30,211.62 L198.84,212.04 L200.39,212.45 L201.95,212.87 L203.54,213.28 L205.14,213.70 L206.76,214.12 L208.40,214.53 L210.06,214.95 L211.74,215.36 L213.43,215.78 L215.15,216.19 L216.88,216.61 L218.64,217.02 L220.41,217.44 L222.21,217.85 L224.02,218.27 L225.86,218.68 L227.72,219.10 L229.60,219.51 L231.50,219.93 L233.42,220.34 L235.36,220.76 L237.33,221.17 L239.31,221.59 L241.32,222.00 L243.36,222.42 L245.41,222.83 L247.49,223.25 L249.60,223.66 L251.73,224.08 L253.88,224.50 L256.05,224.91 L258.25,225.33 L260.48,225.74 L262.73,226.16 L265.01,226.57 L267.31,226.99 L269.64,227.40 L272.00,227.82 L274.38,228.23 L276.79,228.65 L279.23,229.06 L281.69,229.48 L284.19,229.89 L286.71,230.31 L289.26,230.72 L291.84,231.14 L294.45,231.55 L297.08,231.97 L299.75,232.38 L302.45,232.80 L305.18,233.21 L307.94,233.63 L310.73,234.05 L313.56,234.46 L316.41,234.88 L319.30,235.29 L322.22,235.71 L325.18,236.12 L328.17,236.54 L331.19,236.95 L334.25,237.37 L337.34,237.78 L340.47,238.20 L343.63,238.61 L346.83,239.03 L350.06,239.44 L353.33,239.86 L356.64,240.27 L359.99,240.69 L363.37,241.10 L366.80,241.52 L370.26,241.93 L373.76,242.35 L377.30,242.76 L380.89,243.18 L384.51,243.59 L388.17,244.01 L391.88,244.43 L395.63,244.84 L399.42,245.26 L403.25,245.67 L407.13,246.09 L411.05,246.50 L415.02,246.92 L419.03,247.33 L423.09,247.75 L427.19,248.16 L431.34,248.58 L435.54,248.99 L439.78,249.41 L444.08,249.82 L448.42,250.24 L452.81,250.65" stroke="#ff8000" stroke-width="1.9" stroke-dasharray="2.3 1.854"/>
<path d="M121.21,178.05 L121.48,178.22 L121.76,178.40 L122.05,178.57 L122.33,178.75 L122.61,178.92 L122.90,179.10 L123.18,179.27 L123.47,179.44 L123.76,179.62 L124.05,179.79 L124.34,179.97 L124.64,180.14 L124.93,180.32 L125.23,180.49 L125.53,180.66 L125.82,180.84 L126.13,181.01 L126.43,181.19 L126.73,181.36 L127.04,181.54 L127.34,181.71 L127.65,181.89 L127.96,182.06 L128.27,182.23 L128.58,182.41 L128.90,182.58 L129.21,182.76 L129.53,182.93 L129.85,183.11 L130.17,183.28 L130.49,183.46 L130.81,183.63 L131.13,183.80 L131.46,183.98 L131.79,184.15 L132.12,184.33 L132.45,184.50 L132.78,184.68 L133.11,184.85 L133.45,185.02 L133.78,185.20 L134.12,185.37 L134.46,185.55 L134.80,185.72 L135.15,185.90 L135.49,186.07 L135.84,186.25 L136.19,186.42 L136.54,186.59 L136.89,186.77 L137.24,186.94 L137.60,187.12 L137.95,187.29 L138.31,187.47 L138.67,187.64 L139.03,187.82 L139.40,187.99 L139.76,188.16 L140.13,188.34 L140.50,188.51 L140.87,188.69 L141.24,188.86 L141.62,189.04 L141.99,189.21 L142.37,189.39 L142.75,189.56 L143.13,189.73 L143.51,189.91 L143.90,190.08 L144.28,190.26 L144.67,190.43 L145.06,190.61 L145.46,190.78 L145.85,190.95 L146.25,191.13 L146.64,191.30 L147.04,191.48 L147.45,191.65 L147.85,191.83 L148.25,192.00 L148.66,192.18 L149.07,192.35 L149.48,192.52 L149.90,192.70 L150.31,192.87 L150.73,193.05 L151.15,193.22 L151.57,193.40 L151.99,193.57 L152.42,193.75 L152.85,193.92 L153.27,194.09 L153.71,194.27 L154.14,194.44 L154.58,194.62 L155.01,194.79 L155.45,194.97 L155.89,195.14 L156.34,195.31 L156.78,195.49 L157.23,195.66 L157.68,195.84 L158.14,196.01 L158.59,196.19 L159.05,196.36 L159.51,196.54 L159.97,196.71 L160.43,196.88 L160.90,197.06 L161.36,197.23 L161.83,197.41 L162.31,197.58 L162.78,197.76 L163.26,197.93 L163.74,198.11 L164.22,198.28 L164.70,198.45 L165.19,198.63 L165.68,198.80 L166.17,198.98 L166.66,199.15 L167.15,199.33 L167.65,199.50 L168.15,199.67 L168.65,199.85 L169.16,200.02 L169.67,200.20 L170.18,200.37 L170.69,200.55 L171.20,200.72 L171.72,200.90 L172.24,201.07 L172.76,201.24 L173.28,201.42 L173.81,201.59 L174.34,201.77 L174.87,201.94 L175.41,202.12 L175.94,202.29 L176.48,202.47 L177.03,202.64 L177.57,202.81 L178.12,202.99 L178.67,203.16 L179.22,203.34 L179.78,203.51 L180.33,203.69 L180.89,203.86 L181.46,204.04 L182.02,204.21 L182.59,204.38 L183.16,204.56 L183.74,204.73 L184.31,204.91 L184.89,205.08 L185.47,205.26 L186.06,205.43 L186.65,205.60 L187.24,205.78 L187.83,205.95 L188.43,206.13 L189.03,206.30 L189.63,206.48 L190.23,206.65 L190.84,206.83 L191.45,207.00 L192.06,207.17 L192.68,207.35 L193.30,207.52 L193.92,207.70 L194.55,207.87 L195.18,208.05 L195.81,208.22 L196.44,208.40 L197.08,208.57 L197.72,208.74 L198.36,208.92 L199.01,209.09 L199.66,209.27 L200.31,209.44 L200.97,209.62 L201.63,209.79 L202.29,209.96 L202.95,210.14 L203.62,210.31 L204.29,210.49 L204.97,210.66 L205.65,210.84 L206.33,211.01 L207.01,211.19 L207.70,211.36 L208.39,211.53 L209.08,211.71 L209.78,211.88 L210.48,212.06 L211.19,212.23 L211.89,212.41 L212.60,212.58 L213.32,212.76 L214.04,212.93 L214.76,213.10 L215.48,213.28 L216.21,213.45 L216.94,213.63 L217.68,213.80 L218.42,213.98 L219.16,214.15 L219.90,214.33 L220.65,214.50 L221.41,214.67 L222.16,214.85 L222.92,215.02 L223.69,215.20 L224.45,215.37 L225.22,215.55 L226.00,215.72 L226.78,215.89 L227.56,216.07 L228.34,216.24 L229.13,216.42 L229.93,216.59 L230.72,216.77 L231.52,216.94 L232.33,217.12 L233.14,217.29 L233.95,217.46 L234.77,217.64 L235.59,217.81 L236.41,217.99 L237.24,218.16 L238.07,218.34 L238.90,218.51 L239.74,218.69 L240.59,218.86 L241.44,219.03 L242.29,219.21 L243.14,219.38 L244.00,219.56 L244.87,219.73 L245.74,219.91 L246.61,220.08 L247.48,220.25 L248.37,220.43 L249.25,220.60 L250.14,220.78 L251.03,220.95 L251.93,221.13 L252.83,221.30 L253.74,221.48 L254.65,221.65 L255.56,221.82 L256.48,222.00 L257.41,222.17 L258.33,222.35 L259.27,222.52 L260.20,222.70 L261.14,222.87 L262.09,223.05 L263.04,223.22 L264.00,223.39 L264.96,223.57 L265.92,223.74 L266.89,223.92 L267.86,224.09 L268.84,224.27 L269.82,224.44 L270.81,224.62 L271.80,224.79 L272.80,224.96 L273.80,225.14 L274.80,225.31 L275.82,225.49 L276.83,225.66 L277.85,225.84 L278.88,226.01 L279.91,226.18 L280.94,226.36 L281.98,226.53 L283.03,226.71 L284.08,226.88 L285.13,227.06 L286.19,227.23 L287.26,227.41 L288.33,227.58 L289.41,227.75 L290.49,227.93 L291.57,228.10 L292.66,228.28 L293.76,228.45 L294.86,228.63 L295.97,228.80 L297.08,228.98 L298.20,229.15 L299.32,229.32 L300.45,229.50 L301.58,229.67 L302.72,229.85 L303.86,230.02 L305.01,230.20 L306.17,230.37 L307.33,230.54 L308.49,230.72 L309.66,230.89 L310.84,231.07 L312.02,231.24 L313.21,231.42 L314.41,231.59 L315.61,231.77 L316.81,231.94 L318.02,232.11 L319.24,232.29 L320.46,232.46 L321.69,232.64 L322.93,232.81 L324.17,232.99 L325.41,233.16 L326.67,233.34 L327.92,233.51 L329.19,233.68 L330.46,233.86 L331.73,234.03 L333.02,234.21 L334.31,234.38 L335.60,234.56 L336.90,234.73 L338.21,234.91 L339.52,235.08 L340.84,235.25 L342.17,235.43 L343.50,235.60 L344.84,235.78 L346.18,235.95 L347.53,236.13 L348.89,236.30 L350.26,236.47 L351.63,236.65 L353.00,236.82 L354.39,237.00 L355.78,237.17 L357.17,237.35 L358.58,237.52 L359.99,237.70 L361.41,237.87 L362.83,238.04 L364.26,238.22 L365.70,238.39 L367.14,238.57 L368.59,238.74 L370.05,238.92 L371.52,239.09 L372.99,239.27 L374.47,239.44 L375.95,239.61 L377.45,239.79 L378.95,239.96 L380.46,240.14 L381.97,240.31 L383.49,240.49 L385.02,240.66 L386.56,240.83 L388.10,241.01 L389.65,241.18 L391.21,241.36 L392.78,241.53 L394.35,241.71 L395.93,241.88 L397.52,242.06 L399.12,242.23 L400.72,242.40 L402.33,242.58 L403.95,242.75 L405.58,242.93 L407.21,243.10 L408.86,243.28 L410.51,243.45 L412.16,243.63 L413.83,243.80 L415.50,243.97 L417.19,244.15 L418.87,244.32 L420.57,244.50 L422.28,244.67 L423.99,244.85 L425.72,245.02 L427.45,245.20 L429.18,245.37 L430.93,245.54 L432.69,245.72 L434.45,245.89 L436.22,246.07 L438.00,246.24 L439.79,246.42 L441.59,246.59 L443.40,246.76 L445.21,246.94 L447.04,247.11 L448.87,247.29 L450.71,247.46 L452.56,247.64 L454.42,247.81" stroke="#800080" stroke-width="1.9" stroke-dasharray="4.85 1.79"/>
<path d="M368.52,214.54 L368.71,214.56 L368.90,214.59 L369.09,214.61 L369.28,214.63 L369.46,214.65 L369.65,214.68 L369.84,214.70 L370.03,214.72 L370.22,214.74 L370.41,214.77 L370.60,214.79 L370.79,214.81 L370.98,214.84 L371.17,214.86 L371.36,214.88 L371.55,214.90 L371.74,214.93 L371.93,214.95 L372.13,214.97 L372.32,214.99 L372.51,215.02 L372.70,215.04 L372.89,215.06 L373.08,215.08 L373.27,215.11 L373.46,215.13 L373.66,215.15 L373.85,215.17 L374.04,215.20 L374.23,215.22 L374.42,215.24 L374.62,215.26 L374.81,215.29 L375.00,215.31 L375.19,215.33 L375.39,215.36 L375.58,215.38 L375.77,215.40 L375.97,215.42 L376.16,215.45 L376.35,215.47 L376.55,215.49 L376.74,215.51 L376.93,215.54 L377.13,215.56 L377.32,215.58 L377.52,215.60 L377.71,215.63 L377.90,215.65 L378.10,215.67 L378.29,215.69 L378.49,215.72 L378.68,215.74 L378.88,215.76 L379.07,215.79 L379.27,215.81 L379.46,215.83 L379.66,215.85 L379.85,215.88 L380.05,215.90 L380.25,215.92 L380.44,215.94 L380.64,215.97 L380.83,215.99 L381.03,216.01 L381.23,216.03 L381.42,216.06 L381.62,216.08 L381.82,216.10 L382.01,216.12 L382.21,216.15 L382.41,216.17 L382.60,216.19 L382.80,216.21 L383.00,216.24 L383.20,216.26 L383.39,216.28 L383.59,216.31 L383.79,216.33 L383.99,216.35 L384.19,216.37 L384.39,216.40 L384.58,216.42 L384.78,216.44 L384.98,216.46 L385.18,216.49 L385.38,216.51 L385.58,216.53 L385.78,216.55 L385.98,216.58 L386.18,216.60 L386.38,216.62 L386.58,216.64 L386.78,216.67 L386.98,216.69 L387.18,216.71 L387.38,216.74 L387.58,216.76 L387.78,216.78 L387.98,216.80 L388.18,216.83 L388.38,216.85 L388.58,216.87 L388.78,216.89 L388.98,216.92 L389.18,216.94 L389.38,216.96 L389.59,216.98 L389.79,217.01 L389.99,217.03 L390.19,217.05 L390.39,217.07 L390.60,217.10 L390.80,217.12 L391.00,217.14 L391.20,217.16 L391.41,217.19 L391.61,217.21 L391.81,217.23 L392.01,217.26 L392.22,217.28 L392.42,217.30 L392.62,217.32 L392.83,217.35 L393.03,217.37 L393.24,217.39 L393.44,217.41 L393.64,217.44 L393.85,217.46 L394.05,217.48 L394.26,217.50 L394.46,217.53 L394.67,217.55 L394.87,217.57 L395.08,217.59 L395.28,217.62 L395.49,217.64 L395.69,217.66 L395.90,217.69 L396.10,217.71 L396.31,217.73 L396.51,217.75 L396.72,217.78 L396.93,217.80 L397.13,217.82 L397.34,217.84 L397.54,217.87 L397.75,217.89 L397.96,217.91 L398.16,217.93 L398.37,217.96 L398.58,217.98 L398.79,218.00 L398.99,218.02 L399.20,218.05 L399.41,218.07 L399.62,218.09 L399.82,218.12 L400.03,218.14 L400.24,218.16 L400.45,218.18 L400.66,218.21 L400.87,218.23 L401.07,218.25 L401.28,218.27 L401.49,218.30 L401.70,218.32 L401.91,218.34 L402.12,218.36 L402.33,218.39 L402.54,218.41 L402.75,218.43 L402.96,218.45 L403.17,218.48 L403.38,218.50 L403.59,218.52 L403.80,218.54 L404.01,218.57 L404.22,218.59 L404.43,218.61 L404.64,218.64 L404.85,218.66 L405.06,218.68 L405.27,218.70 L405.49,218.73 L405.70,218.75 L405.91,218.77 L406.12,218.79 L406.33,218.82 L406.54,218.84 L406.76,218.86 L406.97,218.88 L407.18,218.91 L407.39,218.93 L407.61,218.95 L407.82,218.97 L408.03,219.00 L408.25,219.02 L408.46,219.04 L408.67,219.07 L408.89,219.09 L409.10,219.11 L409.31,219.13 L409.53,219.16 L409.74,219.18 L409.95,219.20 L410.17,219.22 L410.38,219.25 L410.60,219.27 L410.81,219.29 L411.03,219.31 L411.24,219.34 L411.46,219.36 L411.67,219.38 L411.89,219.40 L412.10,219.43 L412.32,219.45 L412.53,219.47 L412.75,219.49 L412.97,219.52 L413.18,219.54 L413.40,219.56 L413.61,219.59 L413.83,219.61 L414.05,219.63 L414.26,219.65 L414.48,219.68 L414.70,219.70 L414.92,219.72 L415.13,219.74 L415.35,219.77 L415.57,219.79 L415.79,219.81 L416.00,219.83 L416.22,219.86 L416.44,219.88 L416.66,219.90 L416.88,219.92 L417.10,219.95 L417.31,219.97 L417.53,219.99 L417.75,220.02 L417.97,220.04 L418.19,220.06 L418.41,220.08 L418.63,220.11 L418.85,220.13 L419.07,220.15 L419.29,220.17 L419.51,220.20 L419.73,220.22 L419.95,220.24 L420.17,220.26 L420.39,220.29 L420.61,220.31 L420.83,220.33 L421.05,220.35 L421.27,220.38 L421.49,220.40 L421.72,220.42 L421.94,220.44 L422.16,220.47 L422.38,220.49 L422.60,220.51 L422.82,220.54 L423.05,220.56 L423.27,220.58 L423.49,220.60 L423.71,220.63 L423.94,220.65 L424.16,220.67 L424.38,220.69 L424.61,220.72 L424.83,220.74 L425.05,220.76 L425.28,220.78 L425.50,220.81 L425.72,220.83 L425.95,220.85 L426.17,220.87 L426.40,220.90 L426.62,220.92 L426.85,220.94 L427.07,220.97 L427.29,220.99 L427.52,221.01 L427.74,221.03 L427.97,221.06 L428.20,221.08 L428.42,221.10 L428.65,221.12 L428.87,221.15 L429.10,221.17 L429.32,221.19 L429.55,221.21 L429.78,221.24 L430.00,221.26 L430.23,221.28 L430.46,221.30 L430.68,221.33 L430.91,221.35 L431.14,221.37 L431.37,221.39 L431.59,221.42 L431.82,221.44 L432.05,221.46 L432.28,221.49 L432.50,221.51 L432.73,221.53 L432.96,221.55 L433.19,221.58 L433.42,221.60 L433.65,221.62 L433.87,221.64 L434.10,221.67 L434.33,221.69 L434.56,221.71 L434.79,221.73 L435.02,221.76 L435.25,221.78 L435.48,221.80 L435.71,221.82 L435.94,221.85 L436.17,221.87 L436.40,221.89 L436.63,221.92 L436.86,221.94 L437.09,221.96 L437.33,221.98 L437.56,222.01 L437.79,222.03 L438.02,222.05 L438.25,222.07 L438.48,222.10 L438.71,222.12 L438.95,222.14 L439.18,222.16 L439.41,222.19 L439.64,222.21 L439.88,222.23 L440.11,222.25 L440.34,222.28 L440.57,222.30 L440.81,222.32 L441.04,222.34 L441.27,222.37 L441.51,222.39 L441.74,222.41 L441.98,222.44 L442.21,222.46 L442.44,222.48 L442.68,222.50 L442.91,222.53 L443.15,222.55 L443.38,222.57 L443.62,222.59 L443.85,222.62 L444.09,222.64 L444.32,222.66 L444.56,222.68 L444.79,222.71 L445.03,222.73 L445.26,222.75 L445.50,222.77 L445.74,222.80 L445.97,222.82 L446.21,222.84 L446.45,222.87 L446.68,222.89 L446.92,222.91 L447.16,222.93 L447.39,222.96 L447.63,222.98 L447.87,223.00 L448.11,223.02 L448.34,223.05 L448.58,223.07 L448.82,223.09 L449.06,223.11 L449.30,223.14 L449.54,223.16 L449.77,223.18 L450.01,223.20 L450.25,223.23 L450.49,223.25 L450.73,223.27 L450.97,223.29 L451.21,223.32 L451.45,223.34 L451.69,223.36 L451.93,223.39 L452.17,223.41 L452.41,223.43 L452.65,223.45 L452.89,223.48 L453.13,223.50 L453.37,223.52 L453.61,223.54 L453.85,223.57 L454.10,223.59" stroke="#800080" stroke-width="1.9"/>
<path d="M62.80,193.57 L453.84,193.57" stroke="#ff0000" stroke-width="0.55"/>
</g>
<g stroke="#000" fill="none">
<line x1="62.80" y1="255.65" x2="62.80" y2="252.20" stroke-width="1.3"/>
<line x1="62.80" y1="4.15" x2="62.80" y2="7.95" stroke-width="1.3"/>
<line x1="73.50" y1="255.65" x2="73.50" y2="253.70" stroke-width="1.2"/>
<line x1="73.50" y1="4.15" x2="73.50" y2="6.50" stroke-width="1.2"/>
<line x1="84.19" y1="255.65" x2="84.19" y2="253.70" stroke-width="1.2"/>
<line x1="84.19" y1="4.15" x2="84.19" y2="6.50" stroke-width="1.2"/>
<line x1="94.89" y1="255.65" x2="94.89" y2="253.70" stroke-width="1.2"/>
<line x1="94.89" y1="4.15" x2="94.89" y2="6.50" stroke-width="1.2"/>
<line x1="105.59" y1="255.65" x2="105.59" y2="253.70" stroke-width="1.2"/>
<line x1="105.59" y1="4.15" x2="105.59" y2="6.50" stroke-width="1.2"/>
<line x1="116.28" y1="255.65" x2="116.28" y2="252.20" stroke-width="1.3"/>
<line x1="116.28" y1="4.15" x2="116.28" y2="7.95" stroke-width="1.3"/>
<line x1="126.98" y1="255.65" x2="126.98" y2="253.70" stroke-width="1.2"/>
<line x1="126.98" y1="4.15" x2="126.98" y2="6.50" stroke-width="1.2"/>
<line x1="137.68" y1="255.65" x2="137.68" y2="253.70" stroke-width="1.2"/>
<line x1="137.68" y1="4.15" x2="137.68" y2="6.50" stroke-width="1.2"/>
<line x1="148.38" y1="255.65" x2="148.38" y2="253.70" stroke-width="1.2"/>
<line x1="148.38" y1="4.15" x2="148.38" y2="6.50" stroke-width="1.2"/>
<line x1="159.07" y1="255.65" x2="159.07" y2="253.70" stroke-width="1.2"/>
<line x1="159.07" y1="4.15" x2="159.07" y2="6.50" stroke-width="1.2"/>
<line x1="169.77" y1="255.65" x2="169.77" y2="252.20" stroke-width="1.3"/>
<line x1="169.77" y1="4.15" x2="169.77" y2="7.95" stroke-width="1.3"/>
<line x1="180.47" y1="255.65" x2="180.47" y2="253.70" stroke-width="1.2"/>
<line x1="180.47" y1="4.15" x2="180.47" y2="6.50" stroke-width="1.2"/>
<line x1="191.16" y1="255.65" x2="191.16" y2="253.70" stroke-width="1.2"/>
<line x1="191.16" y1="4.15" x2="191.16" y2="6.50" stroke-width="1.2"/>
<line x1="201.86" y1="255.65" x2="201.86" y2="253.70" stroke-width="1.2"/>
<line x1="201.86" y1="4.15" x2="201.86" y2="6.50" stroke-width="1.2"/>
<line x1="212.56" y1="255.65" x2="212.56" y2="253.70" stroke-width="1.2"/>
<line x1="212.56" y1="4.15" x2="212.56" y2="6.50" stroke-width="1.2"/>
<line x1="223.25" y1="255.65" x2="223.25" y2="252.20" stroke-width="1.3"/>
<line x1="223.25" y1="4.15" x2="223.25" y2="7.95" stroke-width="1.3"/>
<line x1="233.95" y1="255.65" x2="233.95" y2="253.70" stroke-width="1.2"/>
<line x1="233.95" y1="4.15" x2="233.95" y2="6.50" stroke-width="1.2"/>
<line x1="244.65" y1="255.65" x2="244.65" y2="253.70" stroke-width="1.2"/>
<line x1="244.65" y1="4.15" x2="244.65" y2="6.50" stroke-width="1.2"/>
<line x1="255.35" y1="255.65" x2="255.35" y2="253.70" stroke-width="1.2"/>
<line x1="255.35" y1="4.15" x2="255.35" y2="6.50" stroke-width="1.2"/>
<line x1="266.04" y1="255.65" x2="266.04" y2="253.70" stroke-width="1.2"/>
<line x1="266.04" y1="4.15" x2="266.04" y2="6.50" stroke-width="1.2"/>
<line x1="276.74" y1="255.65" x2="276.74" y2="252.20" stroke-width="1.3"/>
<line x1="276.74" y1="4.15" x2="276.74" y2="7.95" stroke-width="1.3"/>
<line x1="287.44" y1="255.65" x2="287.44" y2="253.70" stroke-width="1.2"/>
<line x1="287.44" y1="4.15" x2="287.44" y2="6.50" stroke-width="1.2"/>
<line x1="298.13" y1="255.65" x2="298.13" y2="253.70" stroke-width="1.2"/>
<line x1="298.13" y1="4.15" x2="298.13" y2="6.50" stroke-width="1.2"/>
<line x1="308.83" y1="255.65" x2="308.83" y2="253.70" stroke-width="1.2"/>
<line x1="308.83" y1="4.15" x2="308.83" y2="6.50" stroke-width="1.2"/>
<line x1="319.53" y1="255.65" x2="319.53" y2="253.70" stroke-width="1.2"/>
<line x1="319.53" y1="4.15" x2="319.53" y2="6.50" stroke-width="1.2"/>
<line x1="330.23" y1="255.65" x2="330.23" y2="252.20" stroke-width="1.3"/>
<line x1="330.23" y1="4.15" x2="330.23" y2="7.95" stroke-width="1.3"/>
<line x1="340.92" y1="255.65" x2="340.92" y2="253.70" stroke-width="1.2"/>
<line x1="340.92" y1="4.15" x2="340.92" y2="6.50" stroke-width="1.2"/>
<line x1="351.62" y1="255.65" x2="351.62" y2="253.70" stroke-width="1.2"/>
<line x1="351.62" y1="4.15" x2="351.62" y2="6.50" stroke-width="1.2"/>
<line x1="362.32" y1="255.65" x2="362.32" y2="253.70" stroke-width="1.2"/>
<line x1="362.32" y1="4.15" x2="362.32" y2="6.50" stroke-width="1.2"/>
<line x1="373.01" y1="255.65" x2="373.01" y2="253.70" stroke-width="1.2"/>
<line x1="373.01" y1="4.15" x2="373.01" y2="6.50" stroke-width="1.2"/>
<line x1="383.71" y1="255.65" x2="383.71" y2="252.20" stroke-width="1.3"/>
<line x1="383.71" y1="4.15" x2="383.71" y2="7.95" stroke-width="1.3"/>
<line x1="394.41" y1="255.65" x2="394.41" y2="253.70" stroke-width="1.2"/>
<line x1="394.41" y1="4.15" x2="394.41" y2="6.50" stroke-width="1.2"/>
<line x1="405.10" y1="255.65" x2="405.10" y2="253.70" stroke-width="1.2"/>
<line x1="405.10" y1="4.15" x2="405.10" y2="6.50" stroke-width="1.2"/>
<line x1="415.80" y1="255.65" x2="415.80" y2="253.70" stroke-width="1.2"/>
<line x1="415.80" y1="4.15" x2="415.80" y2="6.50" stroke-width="1.2"/>
<line x1="426.50" y1="255.65" x2="426.50" y2="253.70" stroke-width="1.2"/>
<line x1="426.50" y1="4.15" x2="426.50" y2="6.50" stroke-width="1.2"/>
<line x1="437.20" y1="255.65" x2="437.20" y2="252.20" stroke-width="1.3"/>
<line x1="437.20" y1="4.15" x2="437.20" y2="7.95" stroke-width="1.3"/>
<line x1="447.89" y1="255.65" x2="447.89" y2="253.70" stroke-width="1.2"/>
<line x1="447.89" y1="4.15" x2="447.89" y2="6.50" stroke-width="1.2"/>
<line x1="458.59" y1="255.65" x2="458.59" y2="253.70" stroke-width="1.2"/>
<line x1="458.59" y1="4.15" x2="458.59" y2="6.50" stroke-width="1.2"/>
<line x1="54.75" y1="244.50" x2="58.05" y2="244.50" stroke-width="1.5"/>
<line x1="461.85" y1="244.50" x2="458.15" y2="244.50" stroke-width="1.5"/>
<line x1="54.75" y1="228.85" x2="56.65" y2="228.85" stroke-width="0.8"/>
<line x1="461.85" y1="228.85" x2="459.85" y2="228.85" stroke-width="0.8"/>
<line x1="54.75" y1="219.93" x2="56.65" y2="219.93" stroke-width="0.8"/>
<line x1="461.85" y1="219.93" x2="459.85" y2="219.93" stroke-width="0.8"/>
<line x1="54.75" y1="213.61" x2="56.65" y2="213.61" stroke-width="0.8"/>
<line x1="461.85" y1="213.61" x2="459.85" y2="213.61" stroke-width="0.8"/>
<line x1="54.75" y1="208.70" x2="56.65" y2="208.70" stroke-width="0.8"/>
<line x1="461.85" y1="208.70" x2="459.85" y2="208.70" stroke-width="0.8"/>
<line x1="54.75" y1="204.69" x2="56.65" y2="204.69" stroke-width="0.8"/>
<line x1="461.85" y1="204.69" x2="459.85" y2="204.69" stroke-width="0.8"/>
<line x1="54.75" y1="201.30" x2="56.65" y2="201.30" stroke-width="0.8"/>
<line x1="461.85" y1="201.30" x2="459.85" y2="201.30" stroke-width="0.8"/>
<line x1="54.75" y1="198.36" x2="56.65" y2="198.36" stroke-width="0.8"/>
<line x1="461.85" y1="198.36" x2="459.85" y2="198.36" stroke-width="0.8"/>
<line x1="54.75" y1="195.77" x2="56.65" y2="195.77" stroke-width="0.8"/>
<line x1="461.85" y1="195.77" x2="459.85" y2="195.77" stroke-width="0.8"/>
<line x1="54.75" y1="193.72" x2="58.05" y2="193.72" stroke-width="1.7"/>
<line x1="461.85" y1="193.72" x2="458.15" y2="193.72" stroke-width="1.7"/>
<line x1="54.75" y1="178.20" x2="56.65" y2="178.20" stroke-width="0.8"/>
<line x1="461.85" y1="178.20" x2="459.85" y2="178.20" stroke-width="0.8"/>
<line x1="54.75" y1="169.28" x2="56.65" y2="169.28" stroke-width="0.8"/>
<line x1="461.85" y1="169.28" x2="459.85" y2="169.28" stroke-width="0.8"/>
<line x1="54.75" y1="162.96" x2="56.65" y2="162.96" stroke-width="0.8"/>
<line x1="461.85" y1="162.96" x2="459.85" y2="162.96" stroke-width="0.8"/>
<line x1="54.75" y1="158.05" x2="56.65" y2="158.05" stroke-width="0.8"/>
<line x1="461.85" y1="158.05" x2="459.85" y2="158.05" stroke-width="0.8"/>
<line x1="54.75" y1="154.04" x2="56.65" y2="154.04" stroke-width="0.8"/>
<line x1="461.85" y1="154.04" x2="459.85" y2="154.04" stroke-width="0.8"/>
<line x1="54.75" y1="150.65" x2="56.65" y2="150.65" stroke-width="0.8"/>
<line x1="461.85" y1="150.65" x2="459.85" y2="150.65" stroke-width="0.8"/>
<line x1="54.75" y1="147.71" x2="56.65" y2="147.71" stroke-width="0.8"/>
<line x1="461.85" y1="147.71" x2="459.85" y2="147.71" stroke-width="0.8"/>
<line x1="54.75" y1="145.12" x2="56.65" y2="145.12" stroke-width="0.8"/>
<line x1="461.85" y1="145.12" x2="459.85" y2="145.12" stroke-width="0.8"/>
<line x1="54.75" y1="142.80" x2="58.05" y2="142.80" stroke-width="1.5"/>
<line x1="461.85" y1="142.80" x2="458.15" y2="142.80" stroke-width="1.5"/>
<line x1="54.75" y1="127.55" x2="56.65" y2="127.55" stroke-width="0.8"/>
<line x1="461.85" y1="127.55" x2="459.85" y2="127.55" stroke-width="0.8"/>
<line x1="54.75" y1="118.63" x2="56.65" y2="118.63" stroke-width="0.8"/>
<line x1="461.85" y1="118.63" x2="459.85" y2="118.63" stroke-width="0.8"/>
<line x1="54.75" y1="112.31" x2="56.65" y2="112.31" stroke-width="0.8"/>
<line x1="461.85" y1="112.31" x2="459.85" y2="112.31" stroke-width="0.8"/>
<line x1="54.75" y1="107.40" x2="56.65" y2="107.40" stroke-width="0.8"/>
<line x1="461.85" y1="107.40" x2="459.85" y2="107.40" stroke-width="0.8"/>
<line x1="54.75" y1="103.39" x2="56.65" y2="103.39" stroke-width="0.8"/>
<line x1="461.85" y1="103.39" x2="459.85" y2="103.39" stroke-width="0.8"/>
<line x1="54.75" y1="100.00" x2="56.65" y2="100.00" stroke-width="0.8"/>
<line x1="461.85" y1="100.00" x2="459.85" y2="100.00" stroke-width="0.8"/>
<line x1="54.75" y1="97.06" x2="56.65" y2="97.06" stroke-width="0.8"/>
<line x1="461.85" y1="97.06" x2="459.85" y2="97.06" stroke-width="0.8"/>
<line x1="54.75" y1="94.47" x2="56.65" y2="94.47" stroke-width="0.8"/>
<line x1="461.85" y1="94.47" x2="459.85" y2="94.47" stroke-width="0.8"/>
<line x1="54.75" y1="92.15" x2="58.05" y2="92.15" stroke-width="1.5"/>
<line x1="461.85" y1="92.15" x2="458.15" y2="92.15" stroke-width="1.5"/>
<line x1="54.75" y1="76.90" x2="56.65" y2="76.90" stroke-width="0.8"/>
<line x1="461.85" y1="76.90" x2="459.85" y2="76.90" stroke-width="0.8"/>
<line x1="54.75" y1="67.98" x2="56.65" y2="67.98" stroke-width="0.8"/>
<line x1="461.85" y1="67.98" x2="459.85" y2="67.98" stroke-width="0.8"/>
<line x1="54.75" y1="61.66" x2="56.65" y2="61.66" stroke-width="0.8"/>
<line x1="461.85" y1="61.66" x2="459.85" y2="61.66" stroke-width="0.8"/>
<line x1="54.75" y1="56.75" x2="56.65" y2="56.75" stroke-width="0.8"/>
<line x1="461.85" y1="56.75" x2="459.85" y2="56.75" stroke-width="0.8"/>
<line x1="54.75" y1="52.74" x2="56.65" y2="52.74" stroke-width="0.8"/>
<line x1="461.85" y1="52.74" x2="459.85" y2="52.74" stroke-width="0.8"/>
<line x1="54.75" y1="49.35" x2="56.65" y2="49.35" stroke-width="0.8"/>
<line x1="461.85" y1="49.35" x2="459.85" y2="49.35" stroke-width="0.8"/>
<line x1="54.75" y1="46.41" x2="56.65" y2="46.41" stroke-width="0.8"/>
<line x1="461.85" y1="46.41" x2="459.85" y2="46.41" stroke-width="0.8"/>
<line x1="54.75" y1="43.82" x2="56.65" y2="43.82" stroke-width="0.8"/>
<line x1="461.85" y1="43.82" x2="459.85" y2="43.82" stroke-width="0.8"/>
<line x1="54.75" y1="41.50" x2="58.05" y2="41.50" stroke-width="1.5"/>
<line x1="461.85" y1="41.50" x2="458.15" y2="41.50" stroke-width="1.5"/>
<line x1="54.75" y1="26.25" x2="56.65" y2="26.25" stroke-width="0.8"/>
<line x1="461.85" y1="26.25" x2="459.85" y2="26.25" stroke-width="0.8"/>
<line x1="54.75" y1="17.33" x2="56.65" y2="17.33" stroke-width="0.8"/>
<line x1="461.85" y1="17.33" x2="459.85" y2="17.33" stroke-width="0.8"/>
<line x1="54.75" y1="11.01" x2="56.65" y2="11.01" stroke-width="0.8"/>
<line x1="461.85" y1="11.01" x2="459.85" y2="11.01" stroke-width="0.8"/>
<line x1="54.75" y1="6.10" x2="56.65" y2="6.10" stroke-width="0.8"/>
<line x1="461.85" y1="6.10" x2="459.85" y2="6.10" stroke-width="0.8"/>
</g>
<g stroke="#000" fill="none" stroke-linecap="butt">
<line x1="54.75" y1="3.60" x2="54.75" y2="256.52" stroke-width="1.9"/>
<line x1="53.80" y1="255.65" x2="462.44" y2="255.65" stroke-width="1.75"/>
<line x1="53.80" y1="4.35" x2="462.44" y2="4.35" stroke-width="1.5"/>
<line x1="461.67" y1="3.60" x2="461.67" y2="256.52" stroke-width="1.55"/>
</g>
<g font-family="'Liberation Serif', serif" fill="#000" style="text-rendering:geometricPrecision">
<text transform="translate(62.80,267.50) scale(1.02,1.06)" text-anchor="middle" font-size="13.33px">0</text>
<text transform="translate(116.28,267.50) scale(1.02,1.06)" text-anchor="middle" font-size="13.33px">50</text>
<text transform="translate(169.77,267.50) scale(1.02,1.06)" text-anchor="middle" font-size="13.33px">100</text>
<text transform="translate(223.25,267.50) scale(1.02,1.06)" text-anchor="middle" font-size="13.33px">150</text>
<text transform="translate(276.74,267.50) scale(1.02,1.06)" text-anchor="middle" font-size="13.33px">200</text>
<text transform="translate(330.23,267.50) scale(1.02,1.06)" text-anchor="middle" font-size="13.33px">250</text>
<text transform="translate(383.71,267.50) scale(1.02,1.06)" text-anchor="middle" font-size="13.33px">300</text>
<text transform="translate(437.20,267.50) scale(1.02,1.06)" text-anchor="middle" font-size="13.33px">350</text>
<text transform="translate(52.30,44.75) scale(0.97,1.04)" text-anchor="end" font-size="13.33px">1000</text>
<text transform="translate(52.30,95.15) scale(0.97,1.0)" text-anchor="end" font-size="13.33px">100</text>
<text transform="translate(52.30,145.80) scale(0.97,1.0)" text-anchor="end" font-size="13.33px">10</text>
<text transform="translate(51.80,197.20) scale(0.97,1.04)" text-anchor="end" font-size="13.33px">1</text>
<text transform="translate(51.80,247.10) scale(0.97,1.0)" text-anchor="end" font-size="13.33px">0.1</text>
<text transform="translate(271.75,289.30) scale(1,1)" text-anchor="end" font-size="16px" word-spacing="0.7">t [d]</text>
</g>
<g transform="translate(17.1,157.3) rotate(-90)" font-family="'Liberation Serif', serif" fill="#000">
<text transform="translate(0.30,0.00) scale(1,1.03)" text-anchor="start" font-size="16px" font-style="italic">M</text>
<circle cx="7.7" cy="-14.0" r="0.8"/>
<line x1="15.3" y1="1.9" x2="20.1" y2="-11.7" stroke="#000" stroke-width="0.9"/>
<text transform="translate(20.70,0.00) scale(1,1.03)" text-anchor="start" font-size="16px" font-style="italic">M</text>
<circle cx="28.6" cy="-14.3" r="0.8"/>
<text transform="translate(35.70,1.90) scale(1,0.92)" text-anchor="start" font-size="11.6px">Edd</text>
</g>
</svg>
</body></html>
